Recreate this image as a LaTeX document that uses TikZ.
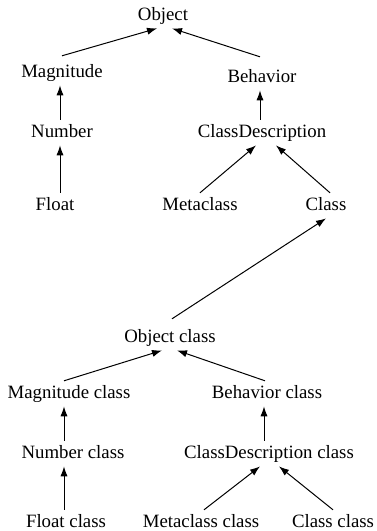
\documentclass[tikz,border=0pt]{standalone}
\usepackage{fontspec}
\setmainfont{Liberation Serif}
\usepackage{tikz}
\usetikzlibrary{arrows.meta}

\begin{document}
\begin{tikzpicture}[x=0.5pt, y=-0.5pt, font=\fontsize{9.4}{11}\selectfont,
    cls/.style={anchor=base, inner sep=2pt, text height=6.4pt, text depth=2pt},
    inh/.style={-{Latex[length=5pt, width=3.6pt]}, line width=0.5pt}]
    \useasboundingbox (0,0) rectangle (376,531);
    \coordinate (tl) at (60,0);
    \coordinate (tr) at (260,0);
    \coordinate (bl) at (64,0);
    \coordinate (br) at (264,0);
    \node[cls] (obj) at (163,20) {Object};
    \node[cls] (mag) at (62,77) {Magnitude};
    \node[cls] (beh) at (262,82) {Behavior};
    \node[cls] (num) at (62,137) {Number};
    \node[cls] (cd) at (262,137) {ClassDescription};
    \node[cls] (flt) at (55,210) {Float};
    \node[cls] (met) at (200,210) {Metaclass};
    \node[cls] (cls) at (326,210) {Class};
    \node[cls] (ocl) at (170,342) {Object class};
    \node[cls] (mcl) at (69,398) {Magnitude class};
    \node[cls] (bcl) at (267,398) {Behavior class};
    \node[cls] (ncl) at (73,458) {Number class};
    \node[cls] (cdc) at (269,458) {ClassDescription class};
    \node[cls] (fcl) at (66,527) {Float class};
    \node[cls] (mcc) at (201,527) {Metaclass class};
    \node[cls] (ccc) at (333,527) {Class class};
    \draw[inh] ([yshift=2pt]mag.north) -- ([xshift=-3pt]obj.south);
    \draw[inh] ([xshift=-1pt, yshift=4pt]beh.north) -- ([xshift=4.5pt]obj.south);
    \draw[inh] (num.north -| tl) -- (mag.south -| tl);
    \draw[inh] (cd.north -| tr) -- (beh.south -| tr);
    \draw[inh] (flt.north -| tl) -- (num.south -| tl);
    \draw[inh] (met.north) -- ([xshift=-3pt]cd.south);
    \draw[inh] ([xshift=2pt]cls.north) -- ([xshift=7pt]cd.south);
    \draw[inh] ([xshift=1pt, yshift=3pt]ocl.north) -- (cls.south);
    \draw[inh] ([xshift=-2.5pt]mcl.north) -- ([xshift=-4pt]ocl.south);
    \draw[inh] ([xshift=-1pt]bcl.north) -- ([xshift=3.5pt]ocl.south);
    \draw[inh] (ncl.north -| bl) -- (mcl.south -| bl);
    \draw[inh] (cdc.north -| br) -- (bcl.south -| br);
    \draw[inh] (fcl.north -| bl) -- (ncl.south -| bl);
    \draw[inh] ([xshift=1.5pt]mcc.north) -- ([xshift=-4.5pt]cdc.south);
    \draw[inh] (ccc.north) -- ([xshift=5pt]cdc.south);
\end{tikzpicture}
\end{document}
